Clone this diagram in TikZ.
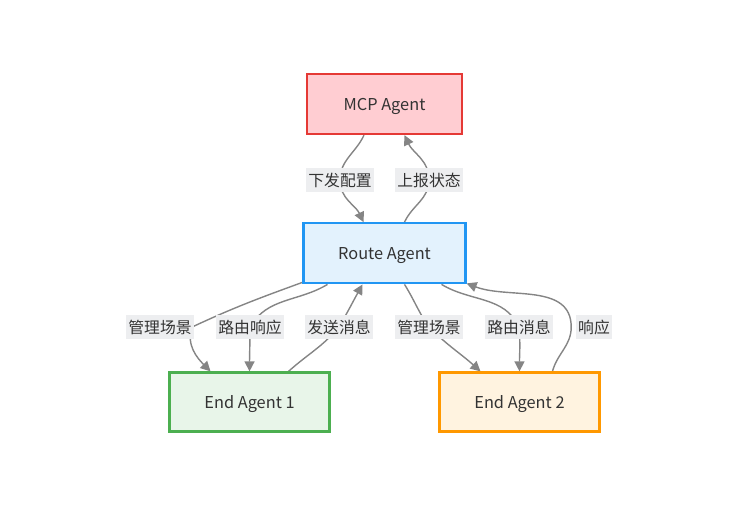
\documentclass[tikz,border=0pt]{standalone}
\usepackage{fontspec}
\setmainfont{Noto Sans CJK SC}
\usepackage{tikz}
\usetikzlibrary{positioning, arrows.meta, backgrounds}

\definecolor{txtgray}{HTML}{333333}
\definecolor{edgegray}{HTML}{858585}
\definecolor{lblbg}{HTML}{EDEEF0}
\definecolor{mcpfill}{HTML}{FFCDD2}
\definecolor{mcpdraw}{HTML}{E53935}
\definecolor{routefill}{HTML}{E3F2FD}
\definecolor{routedraw}{HTML}{2196F3}
\definecolor{endafill}{HTML}{E8F5E9}
\definecolor{endadraw}{HTML}{4CAF50}
\definecolor{endbfill}{HTML}{FFF3E0}
\definecolor{endbdraw}{HTML}{FF9800}

\begin{document}
\begin{tikzpicture}[x=0.02cm, y=-0.02cm, node distance=1.74cm,
    every node/.style={font=\fontsize{9}{11}\selectfont, text=txtgray},
    agent/.style={draw, rectangle, line width=1.3pt, minimum height=1.2cm, text depth=0pt, font=\fontsize{9.3}{11}\selectfont},
    elabel/.style={fill=lblbg, inner xsep=1.5pt, inner ysep=0pt, minimum height=0.48cm},
    flow/.style={draw=edgegray, line width=0.8pt, -{Triangle[length=2mm, width=2mm]}}]
        \useasboundingbox (0,0) rectangle (756,514);

        \node[agent, fill=mcpfill, draw=mcpdraw, minimum width=3.1cm] (mcp) at (384.5,104) {MCP Agent};
        \node[agent, fill=routefill, draw=routedraw, minimum width=3.24cm, below=of mcp] (route) {Route Agent};
        \node[agent, fill=endafill, draw=endadraw, minimum width=3.2cm, minimum height=1.18cm, below=of route, xshift=-2.7cm] (end1) {End Agent 1};
        \node[agent, fill=endbfill, draw=endbdraw, minimum width=3.2cm, minimum height=1.18cm, below=of route, xshift=2.7cm] (end2) {End Agent 2};

        % edge labels
        \node[elabel] (cfg) at (340,180) {下发配置};
        \node[elabel] (rpt) at (429,180) {上报状态};
        \node[elabel] (mgr1) at (160,327) {管理场景};
        \node[elabel] (rsp1) at (250,327) {路由响应};
        \node[elabel] (snd1) at (339,327) {发送消息};
        \node[elabel] (mgr2) at (429,327) {管理场景};
        \node[elabel] (rte2) at (519,327) {路由消息};
        \node[elabel] (rsp2) at (594,327) {响应};

        \begin{scope}[on background layer]
        \draw[flow] ([xshift=-0.41cm]mcp.south) to[out=-115, in=90] (cfg.center) to[out=-90, in=115] ([xshift=-0.42cm]route.north);
        \draw[flow] ([xshift=0.4cm]route.north) to[out=65, in=-90] (rpt.center) to[out=90, in=-65] ([xshift=0.4cm]mcp.south);

        \draw[flow] ([yshift=0.04cm]route.south west) to[out=200, in=25] ([xshift=-0.05cm]mgr1.east) to[out=-110, in=135] ([xshift=-0.78cm]end1.north);
        \draw[flow] ([xshift=-1.14cm]route.south) to[out=-149, in=60] (rsp1.center) to[out=-90, in=90] (end1.north);
        \draw[flow] ([xshift=0.78cm]end1.north) to[out=42, in=-130] (snd1.center) to[out=60, in=-119] ([xshift=-0.44cm]route.south);

        \draw[flow] ([xshift=0.4cm]route.south) to[out=-58, in=125] (mgr2.center) to[out=-45, in=138] ([xshift=-0.78cm]end2.north);
        \draw[flow] ([xshift=1.14cm]route.south) to[out=-31, in=115] (rte2.center) to[out=-85, in=90] (end2.north);
        \draw[flow] ([xshift=0.66cm]end2.north) to[out=75, in=-90] ([xshift=-0.08cm]rsp2.west) to[out=90, in=-21] ([yshift=0.02cm]route.south east);
        \end{scope}
    \end{tikzpicture}
\end{document}
